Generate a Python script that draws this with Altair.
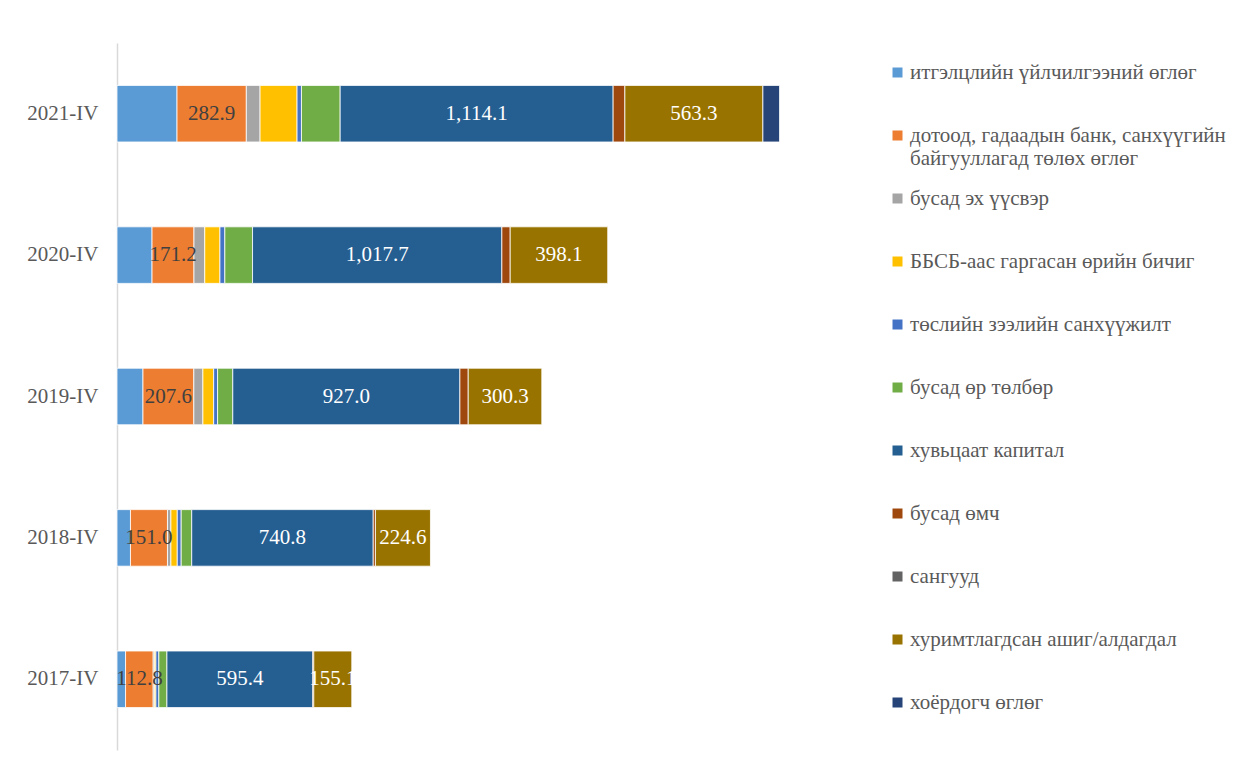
import altair as alt
import pandas as pd

categories = ["2021-IV", "2020-IV", "2019-IV", "2018-IV", "2017-IV"]

series_names = [
    "итгэлцлийн үйлчилгээний өглөг",
    "дотоод, гадаадын банк, санхүүгийн байгууллагад төлөх өглөг",
    "бусад эх үүсвэр",
    "ББСБ-аас гаргасан өрийн бичиг",
    "төслийн зээлийн санхүүжилт",
    "бусад өр төлбөр",
    "хувьцаат капитал",
    "бусад өмч",
    "сангууд",
    "хуримтлагдсан ашиг/алдагдал",
    "хоёрдогч өглөг",
]

colors = ["#5B9BD5", "#ED7D31", "#A5A5A5", "#FFC000", "#4472C4", "#70AD47",
          "#255E91", "#9E480E", "#636363", "#997300", "#264478"]

# values per series, in the order of `categories`
itgeltsel = [245, 143, 106, 55, 35]
dotood_gadaad = [282.9, 171.2, 207.6, 151.0, 112.8]
busad_eh = [56, 44, 37, 14, 5]
bbsb = [151, 62, 44, 26, 6]
tosliin = [18, 20, 16, 16, 12]
busad_or = [158, 113, 62, 43, 33]
huvtsaat = [1114.1, 1017.7, 927.0, 740.8, 595.4]
busad_omch = [48, 34, 34, 9, 4]
sanguud = [0, 0, 0, 0, 0]
hurimtlagdsan = [563.3, 398.1, 300.3, 224.6, 155.1]
hoyordogch = [68, 0, 0, 0, 0]

series_values = [itgeltsel, dotood_gadaad, busad_eh, bbsb, tosliin, busad_or,
                 huvtsaat, busad_omch, sanguud, hurimtlagdsan, hoyordogch]

labelled_series = [1, 6, 9]

rows = []
for i, (name, vals) in enumerate(zip(series_names, series_values)):
    for c, v in zip(categories, vals):
        rows.append({"cat": c, "series": name, "idx": i, "value": v})
df = pd.DataFrame(rows)

serif = "Liberation Serif"

base = alt.Chart(df).transform_stack(
    stack="value",
    groupby=["cat"],
    sort=[alt.SortField(field="idx", order="ascending")],
    as_=["x0", "x1"],
)

xscale = alt.Scale(domain=[0, 3000])
yscale = alt.Scale(paddingInner=0.6, paddingOuter=0.3)

label_expr = (
    "datum.label === '" + series_names[1] + "' ? "
    "['дотоод, гадаадын банк, санхүүгийн', 'байгууллагад төлөх өглөг'] : datum.label"
)

bars = base.transform_filter("datum.value > 0").mark_bar(
    stroke="white", strokeWidth=0.8
).encode(
    x=alt.X("x0:Q", scale=xscale, axis=None),
    x2="x1:Q",
    y=alt.Y(
        "cat:N",
        sort=categories,
        scale=yscale,
        axis=alt.Axis(
            title=None, ticks=False, labelPadding=19, labelFont=serif,
            labelFontSize=21, labelColor="#595959", domainColor="#d9d9d9",
            domainWidth=1.5, grid=False,
        ),
    ),
    color=alt.Color(
        "series:N",
        scale=alt.Scale(domain=series_names, range=colors),
        legend=alt.Legend(
            title=None, orient="none", legendX=770, legendY=19,
            symbolType="square", symbolSize=100, symbolStrokeWidth=0,
            labelFont=serif, labelFontSize=21, labelColor="#595959",
            labelLimit=400, rowPadding=18, gridAlign="all", labelOffset=2,
            padding=0, labelExpr=label_expr,
        ),
    ),
)

labels = base.transform_filter(
    alt.FieldOneOfPredicate(field="idx", oneOf=labelled_series)
).transform_calculate(
    mid="(datum.x0 + datum.x1) / 2"
).mark_text(font=serif, fontSize=21).encode(
    x=alt.X("mid:Q", scale=xscale, axis=None),
    y=alt.Y("cat:N", sort=categories, scale=yscale),
    text=alt.Text("value:Q", format=",.1f"),
    color=alt.condition("datum.idx == 1", alt.value("#404040"), alt.value("#ffffff")),
)

chart = alt.layer(bars, labels).properties(
    width=735,
    height=707,
    autosize=alt.AutoSizeParams(type="none"),
    padding={"left": 109, "top": 35, "right": 388, "bottom": 14},
).configure_view(stroke=None)

chart.save("out.html", embed_options={"renderer": "svg", "actions": False})
